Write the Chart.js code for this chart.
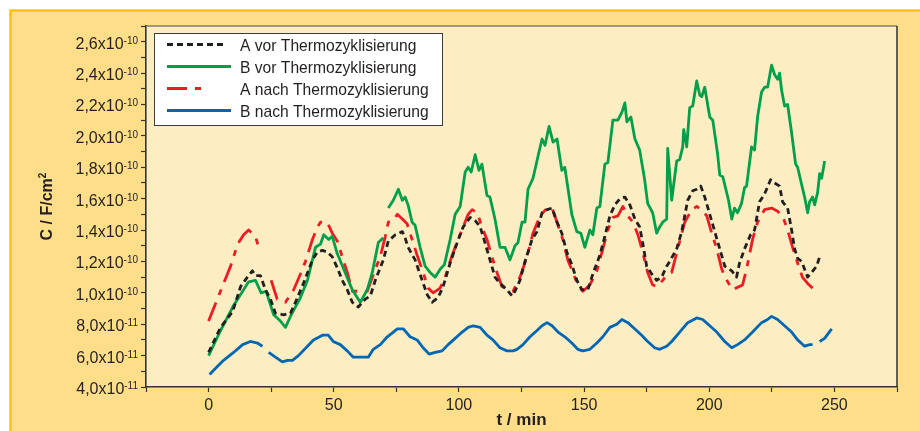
<!DOCTYPE html>
<html>
<head>
<meta charset="utf-8">
<script src="https://cdn.jsdelivr.net/npm/chart.js@4.4.1/dist/chart.umd.min.js"></script>
<style>
  html, body { margin: 0; padding: 0; background: #ffffff; }
  canvas { display: block; }
</style>
</head>
<body>
<canvas id="c" width="920" height="431"></canvas>
<script>
// Time t in minutes, capacitance C in units of 1e-10 F/cm² (null = gap in the record)
const tAvor = [0, 4.8, 9.6, 12.8, 15.5, 17.5, 18.7, 20.7, 22.7, 24.7, 26.7, 30, 32.7, 34.7, 37.9, 41.5, 43.5, 45.5, 47.4, 49.4,
  51.4, 53.4, 55.4, 57.4, 59.8, 62.6, 64.6, 66.6, 69.8, 71.8, 74.6, 77.4, 78.5, 79.7, 82.5, 85.3, 87.3, 89.3, 91.7, 93.7,
  96.5, 99.3, 101.7, 104.5, 106.5, 108.5, 110.4, 112.4, 114.4, 116.4, 119.2, 121.2, 122.4, 124.4, 126.4, 129.2, 131.2, 133.2, 135.2, 137.2,
  139.2, 141.1, 143.1, 145.1, 147.1, 149.1, 151.5, 153.5, 156.3, 158.3, 160.3, 162.3, 164.3, 166.3, 168.3, 170.3, 172.2, 173.4, 175, 177,
  179, 181, 183, 184.2, 187, 189, 191.4, 193.4, 195, 196.6, 198.2, 200.2, 202.2, 204.2, 206.2, 209, 210.9, 212.1, 214.1, 216.5,
  218.1, 220.1, 222.1, 224.5, 226.1, 228.1, 229.3, 231.3, 232.9, 234.1, 235.3, 236.9, 238.1, 239.3, 240.9, 242.9, 244.1];
const cAvor = [0.62, 0.78, 0.88, 1.04, 1.10, 1.14, 1.11, 1.11, 1.02, 0.96, 0.87, 0.86, 0.87, 0.94, 1.06, 1.21, 1.26, 1.27, 1.26, 1.23,
  1.16, 1.08, 1.02, 0.94, 0.91, 0.96, 0.98, 1.08, 1.21, 1.33, 1.37, 1.39, 1.35, 1.29, 1.21, 1.08, 0.99, 0.94, 0.97, 1.04,
  1.19, 1.32, 1.42, 1.48, 1.46, 1.42, 1.32, 1.21, 1.10, 1.06, 1.02, 0.98, 1.01, 1.08, 1.20, 1.34, 1.39, 1.51, 1.53, 1.54,
  1.45, 1.38, 1.26, 1.18, 1.08, 1.02, 1.02, 1.12, 1.24, 1.36, 1.49, 1.56, 1.60, 1.61, 1.56, 1.47, 1.42, 1.32, 1.17, 1.12,
  1.08, 1.10, 1.17, 1.20, 1.28, 1.39, 1.59, 1.65, 1.66, 1.68, 1.61, 1.50, 1.39, 1.28, 1.17, 1.14, 1.10, 1.19, 1.28, 1.37,
  1.40, 1.58, 1.63, 1.72, 1.70, 1.68, 1.58, 1.54, 1.40, 1.28, 1.22, 1.20, 1.15, 1.10, 1.13, 1.17, 1.23];

const tBvor = [0, 4.8, 10, 14, 16, 18.7, 21, 23, 26, 28.7, 30.7, 33, 36.7, 39.5, 42.7, 44.7, 46, 48, 49.4, 51.4,
  54, 57.4, 60.6, 63.4, 65.4, 67.8, 69.8, 70.8, 71.8, 73.8, 75.8, 77.4, 78.5, 79.7, 81.3, 82.5, 84.5, 86.5, 88.5, 90.5,
  92.5, 94.2, 96.5, 98.5, 100.5, 102.5, 103.7, 104.9, 106.5, 108, 109.2, 111.2, 112.4, 114.4, 116.4, 118.4, 120.4, 122.4, 123.6, 125.2,
  126.4, 127.6, 129.6, 131.6, 133.2, 134.4, 136, 137.6, 139.2, 141.1, 142.3, 145.1, 147.1, 148.7, 150.3, 152.3, 153.5, 155.1, 156.3, 158.3,
  159.5, 161.5, 163.5, 165.1, 166.3, 167.1, 168.7, 170.3, 172.2, 174.2, 175.4, 177.4, 179, 180.2, 181.4, 183, 183.4, 185, 187, 188.2,
  189.4, 189.8, 191, 192.2, 193.4, 195, 196.2, 197, 198.2, 200.2, 201.4, 203.3, 204.2, 205.4, 207.7, 209, 210.1, 211.3, 212.9, 214.1,
  214.9, 216.9, 218.1, 219.3, 220.9, 222.1, 223.3, 224.1, 224.9, 226.1, 227.3, 228.1, 228.9, 230.1, 231.3, 232.9, 234.5, 235.3, 236.9, 238.1,
  239.3, 240.1, 241.3, 242.1, 243.3, 244.1, 244.9, 246.1];
const cBvor = [0.60, 0.76, 0.92, 1.02, 1.07, 1.08, 1.00, 1.01, 0.86, 0.82, 0.78, 0.86, 0.97, 1.08, 1.29, 1.31, 1.37, 1.34, 1.36, 1.25,
  1.15, 1.02, 0.94, 1.02, 1.13, 1.32, 1.35, null, 1.54, 1.59, 1.66, 1.59, 1.61, 1.56, 1.45, 1.43, 1.29, 1.17, 1.13, 1.10,
  1.15, 1.18, 1.34, 1.50, 1.55, 1.77, 1.80, 1.77, 1.88, 1.78, 1.82, 1.62, 1.61, 1.47, 1.29, 1.29, 1.21, 1.30, 1.32, 1.45,
  1.45, 1.66, 1.73, 1.87, 1.98, 1.94, 2.06, 1.96, 1.98, 1.78, 1.80, 1.50, 1.39, 1.38, 1.29, 1.40, 1.37, 1.54, 1.55, 1.82,
  1.83, 2.10, 2.10, 2.15, 2.21, 2.09, 2.12, 1.98, 1.91, 1.72, 1.57, 1.51, 1.38, 1.42, 1.45, 1.47, 1.92, 1.59, 1.84, 1.85,
  1.93, 2.04, 1.93, 2.18, 2.19, 2.35, 2.26, 2.25, 2.31, 2.12, 2.10, 1.89, 1.75, 1.74, 1.59, 1.47, 1.54, 1.51, 1.57, 1.67,
  1.68, 1.93, 1.91, 2.12, 2.28, 2.31, 2.31, 2.38, 2.45, 2.39, 2.36, 2.40, 2.29, 2.19, 2.20, 2.02, 1.82, 1.80, 1.69, 1.61,
  1.51, 1.58, 1.61, 1.56, 1.64, 1.76, 1.73, 1.84];

const tAnach = [0, 4, 8.8, 11.6, 14, 16, 18.7, 20, 22.5, 25, 27.4, 30.7, 32, 34, 36.7, 38.7, 41.5, 43.5, 44.7, 47.4,
  49.4, 51.4, 53.4, 55.4, 57.4, 59.4, 63.4, 66.6, 68.6, 70.6, 71.8, 73.8, 75.4, 77.4, 79.3, 81.3, 83.3, 85.7, 87.7, 89.7,
  92.5, 94.5, 97.3, 99.7, 101.7, 103.7, 105.3, 107.3, 109.2, 111.2, 113.2, 115.2, 117.2, 119.6, 121.6, 124.4, 127.2, 129.6, 132.4, 135.2,
  137.2, 139.2, 141.5, 143.5, 145.5, 147.5, 149.5, 152.3, 155.1, 157.5, 159.5, 161.5, 163.5, 165.5, 167.5, 169.5, 171.5, 173.4, 175.4, 177.4,
  179.4, 181.4, 183.4, 185, 187.4, 190.2, 193, 195, 197, 199, 201, 203, 205, 207, 209.3, 213.3, 214.9, 217.3, 219.3, 222.1,
  224.9, 227.3, 229.3, 231.3, 233.3, 235.3, 237.2, 239.3, 241.3];
const cAnach = [0.82, 0.98, 1.17, 1.31, 1.37, 1.40, 1.36, 1.29, null, 1.08, 0.96, 0.94, 0.97, 1.02, 1.12, 1.20, 1.34, 1.42, 1.45, 1.45,
  1.38, 1.33, 1.23, 1.13, 1.01, 1.01, 1.01, 1.15, 1.23, 1.36, 1.45, 1.46, 1.50, 1.47, 1.44, 1.34, 1.24, 1.13, 1.03, 1.00,
  1.03, 1.10, 1.24, 1.34, 1.42, 1.50, 1.53, 1.51, 1.42, 1.34, 1.23, 1.13, 1.04, 1.02, 1.01, 1.10, 1.23, 1.38, 1.49, 1.54,
  1.54, 1.45, 1.34, 1.21, 1.13, 1.05, 1.01, 1.05, 1.14, 1.28, 1.40, 1.48, 1.49, 1.55, 1.49, 1.45, 1.37, 1.26, 1.13, 1.05,
  1.04, 1.08, 1.12, 1.13, 1.28, 1.45, 1.53, 1.55, 1.53, 1.49, 1.38, 1.28, 1.15, 1.08, 1.02, 1.05, 1.15, 1.34, 1.45, 1.53,
  1.54, 1.52, 1.49, 1.40, 1.29, 1.19, 1.10, 1.06, 1.03];

const tBnach = [0.4, 2.8, 6, 10, 13.6, 16.7, 19.5, 21.5, 22.7, 24, 26.7, 29.5, 31.5, 33.5, 35.9, 39.5, 41.9, 45.5, 47.8, 49.8,
  52.6, 55.4, 57.8, 61.4, 63.8, 65.8, 68.6, 71.4, 73.8, 75.4, 77.8, 80.5, 83.3, 85.7, 88.1, 90.5, 93.3, 95.7, 98.5, 101.3,
  103.7, 105.7, 108.5, 111.2, 113.6, 116.4, 119.2, 121.6, 123.2, 125.6, 128.4, 131.2, 133.2, 135.2, 137.2, 139.6, 142.3, 145.1, 147.5, 149.5,
  152.3, 155.1, 157.5, 160.3, 163.1, 165.1, 167.5, 170.3, 173, 175.4, 178.2, 180.2, 183, 185, 188.2, 191.4, 195, 197.4, 200.2, 203,
  206.2, 209, 211.3, 214.1, 217.3, 220.9, 223.3, 224.9, 227.3, 230.1, 232.9, 235.3, 238.1, 240.1, 241.3, 242.7, 244.1, 246.1, 248.9];
const cBnach = [0.48, 0.52, 0.57, 0.62, 0.67, 0.69, 0.68, 0.66, null, 0.62, 0.59, 0.56, 0.57, 0.57, 0.60, 0.66, 0.70, 0.73, 0.73, 0.69,
  0.67, 0.63, 0.59, 0.59, 0.59, 0.64, 0.67, 0.72, 0.75, 0.77, 0.77, 0.72, 0.70, 0.65, 0.61, 0.62, 0.63, 0.67, 0.71, 0.75,
  0.78, 0.79, 0.78, 0.73, 0.70, 0.65, 0.63, 0.63, 0.64, 0.67, 0.72, 0.76, 0.79, 0.81, 0.79, 0.75, 0.72, 0.68, 0.64, 0.63,
  0.64, 0.68, 0.72, 0.78, 0.80, 0.83, 0.81, 0.77, 0.73, 0.69, 0.65, 0.64, 0.66, 0.69, 0.75, 0.81, 0.84, 0.83, 0.79, 0.75,
  0.69, 0.65, 0.67, 0.70, 0.75, 0.81, 0.83, 0.85, 0.83, 0.79, 0.75, 0.70, 0.66, 0.67, 0.67, null, 0.69, 0.71, 0.77];

const seriesLabels = ['A vor Thermozyklisierung', 'B vor Thermozyklisierung', 'A nach Thermozyklisierung', 'B nach Thermozyklisierung'];

// Labelled y ticks: mantissa x 10^exponent
const yTickValues   = [0.4, 0.6, 0.8, 1.0, 1.2, 1.4, 1.6, 1.8, 2.0, 2.2, 2.4, 2.6];
const yTickMantissa = ['4,0', '6,0', '8,0', '1,0', '1,2', '1,4', '1,6', '1,8', '2,0', '2,2', '2,4', '2,6'];
const yTickExponent = ['-11', '-11', '-11', '-10', '-10', '-10', '-10', '-10', '-10', '-10', '-10', '-10'];
const xTickLabels   = [0, 50, 100, 150, 200, 250];

const NUM_FONT = "'Liberation Sans', Arial, sans-serif";
const TEXT = '#231F20';
const LEGEND_SQUEEZE = 0.92;   // condensed legend lettering

function points(t, c) { return t.map((x, i) => ({ x: x, y: c[i] })); }

const decor = {
  id: 'decor',
  beforeDraw(chart) {
    const { ctx, chartArea: a, width, height } = chart;
    ctx.save();
    ctx.fillStyle = '#ffffff';
    ctx.fillRect(0, 0, width, height);
    // yellow panel with orange edge
    ctx.fillStyle = '#FEDE88';
    ctx.fillRect(10, 10, width - 10, height - 10);
    ctx.strokeStyle = '#FFC20E';
    ctx.lineWidth = 2.5;
    ctx.beginPath();
    ctx.moveTo(10.5, height); ctx.lineTo(10.5, 10.5); ctx.lineTo(width, 10.5);
    ctx.stroke();
    // plot area
    ctx.fillStyle = '#FDEDC3';
    ctx.fillRect(a.left, a.top, a.right - a.left, a.bottom - a.top);
    ctx.restore();
  },
  afterDraw(chart) {
    const { ctx, chartArea: a } = chart;
    const ys = chart.scales.y;
    ctx.save();
    // top and right frame lines
    ctx.strokeStyle = '#857B66';
    ctx.lineWidth = 1.5;
    ctx.beginPath(); ctx.moveTo(a.left, a.top); ctx.lineTo(a.right, a.top); ctx.stroke();
    ctx.strokeStyle = '#2E2E2E';
    ctx.beginPath(); ctx.moveTo(a.right, a.top); ctx.lineTo(a.right, a.bottom); ctx.stroke();

    // y tick labels with raised exponent
    ctx.fillStyle = TEXT;
    ctx.textAlign = 'right';
    ctx.textBaseline = 'alphabetic';
    const xr = a.left - 8;
    yTickValues.forEach((v, i) => {
      const py = ys.getPixelForValue(v);
      ctx.font = '10px ' + NUM_FONT;
      const ew = ctx.measureText(yTickExponent[i]).width;
      ctx.fillText(yTickExponent[i], xr, py + 2);
      ctx.font = '16px ' + NUM_FONT;
      ctx.fillText(yTickMantissa[i] + 'x10', xr - ew, py + 7);
    });

    // axis titles
    ctx.font = 'bold 17px ' + NUM_FONT;
    ctx.textAlign = 'center';
    ctx.fillText('t / min', (a.left + a.right) / 2, 425);

    ctx.save();
    ctx.translate(52, (a.top + a.bottom) / 2);
    ctx.rotate(-Math.PI / 2);
    ctx.font = 'bold 16px ' + NUM_FONT;
    const main = 'C / F/cm';
    const mw = ctx.measureText(main).width;
    ctx.font = 'bold 10px ' + NUM_FONT;
    const sw = ctx.measureText('2').width;
    const x0 = -(mw + sw) / 2;
    ctx.textAlign = 'left';
    ctx.font = 'bold 16px ' + NUM_FONT;
    ctx.fillText(main, x0, 0);
    ctx.font = 'bold 10px ' + NUM_FONT;
    ctx.fillText('2', x0 + mw, -6);
    ctx.restore();

    // legend box
    const bx = 154.5, by = 33.5, bw = 288, bh = 92;
    ctx.fillStyle = '#ffffff';
    ctx.fillRect(bx, by, bw, bh);
    ctx.strokeStyle = '#3C3C3C';
    ctx.lineWidth = 1;
    ctx.strokeRect(bx, by, bw, bh);
    const rowY = [44.5, 66.5, 88.5, 110.5];
    const sampleEnd = [226, 231, 207, 231];
    chart.data.datasets.forEach((ds, i) => {
      ctx.strokeStyle = ds.borderColor;
      ctx.lineWidth = ds.borderWidth;
      ctx.setLineDash(ds.borderDash || []);
      ctx.lineCap = 'butt';
      ctx.beginPath();
      ctx.moveTo(167, rowY[i]); ctx.lineTo(sampleEnd[i], rowY[i]);
      ctx.stroke();
      ctx.setLineDash([]);
      ctx.save();
      ctx.translate(240, rowY[i] + 6);
      ctx.scale(LEGEND_SQUEEZE, 1);
      ctx.fillStyle = TEXT;
      ctx.font = '17px ' + NUM_FONT;
      ctx.textAlign = 'left';
      ctx.fillText(ds.label, 0, 0);
      ctx.restore();
    });
    ctx.restore();
  }
};

new Chart(document.getElementById('c'), {
  type: 'line',
  data: {
    datasets: [
      { label: seriesLabels[0], data: points(tAvor, cAvor), borderColor: '#231F20', borderWidth: 2.8, borderDash: [6, 4] },
      { label: seriesLabels[1], data: points(tBvor, cBvor), borderColor: '#00A04B', borderWidth: 2.8 },
      { label: seriesLabels[2], data: points(tAnach, cAnach), borderColor: '#ED1C24', borderWidth: 2.8, borderDash: [20, 8, 6, 8] },
      { label: seriesLabels[3], data: points(tBnach, cBnach), borderColor: '#0066B3', borderWidth: 2.8 }
    ]
  },
  options: {
    responsive: false,
    animation: false,
    parsing: true,
    spanGaps: false,
    layout: { padding: { left: 0, top: 26, right: 23, bottom: 0 } },
    elements: {
      point: { radius: 0, hoverRadius: 0 },
      line: { tension: 0, fill: false, borderJoinStyle: 'round' }
    },
    plugins: { legend: { display: false }, tooltip: { enabled: false }, title: { display: false } },
    scales: {
      x: {
        type: 'linear', min: -25, max: 275,
        afterFit(s) { s.height = 44; },
        ticks: {
          stepSize: 25, autoSkip: false, maxRotation: 0, padding: 4, color: TEXT,
          font: { family: NUM_FONT, size: 16 },
          callback: v => xTickLabels.includes(v) ? String(v) : ''
        },
        grid: { drawOnChartArea: false, drawTicks: true, tickLength: 5, tickColor: '#333333', tickWidth: 1.2 },
        border: { display: true, color: '#333333', width: 1.6 }
      },
      y: {
        type: 'linear', min: 0.4, max: 2.7,
        afterFit(s) { s.width = 146; },
        ticks: { stepSize: 0.1, autoSkip: false, callback: () => '' },
        grid: { drawOnChartArea: false, drawTicks: true, tickLength: 5, tickColor: '#333333', tickWidth: 1.2 },
        border: { display: true, color: '#333333', width: 1.6 }
      }
    }
  },
  plugins: [decor]
});
</script>
</body>
</html>
